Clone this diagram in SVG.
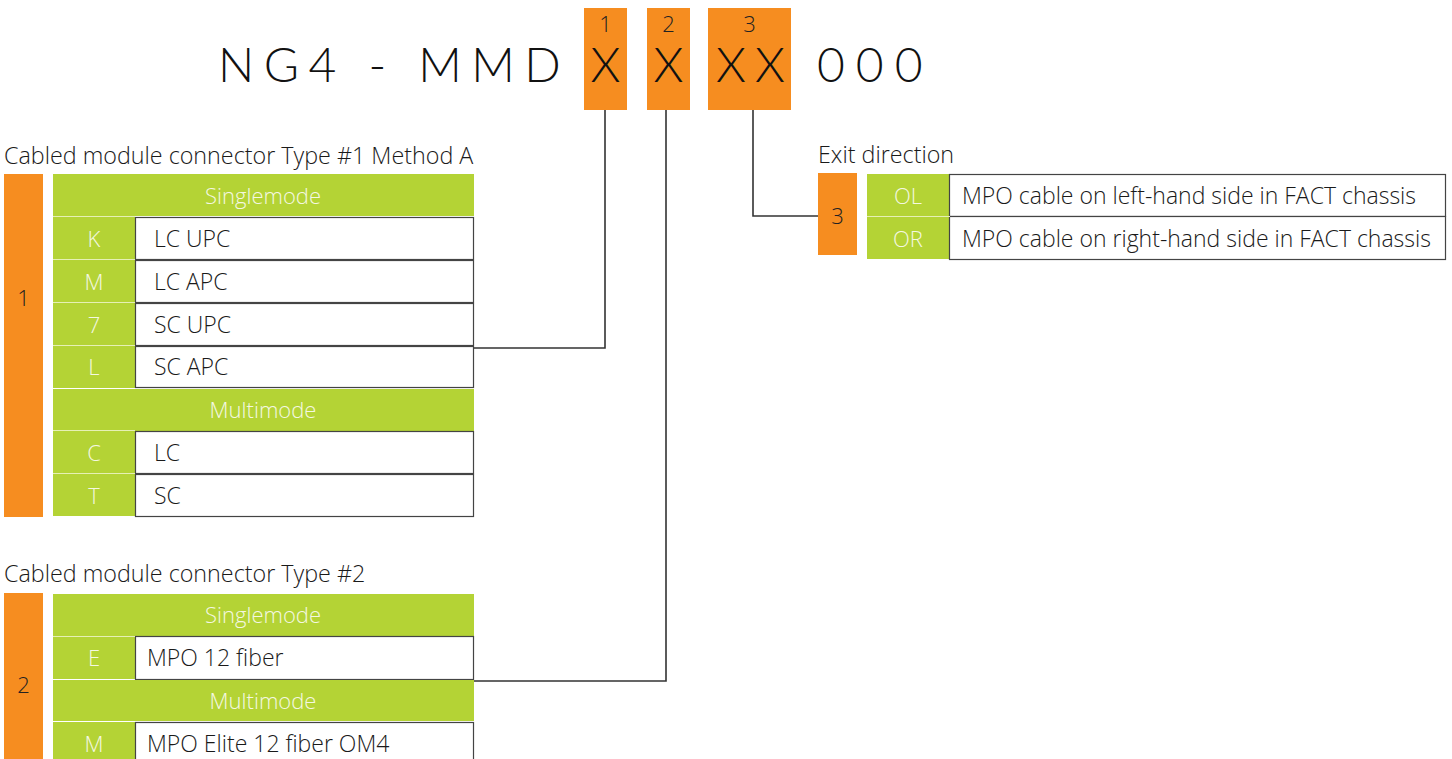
<svg xmlns="http://www.w3.org/2000/svg" width="1452" height="759" viewBox="0 0 1452 759">
<style>
.or{fill:#F68D20}
.gr{fill:#B4D335}
.cell{fill:#fff;stroke:#444;stroke-width:1.2}
.sep{stroke:#E6F0B4;stroke-width:1}
.gt{font-family:"Open Sans","Liberation Sans",sans-serif;font-weight:300;font-size:22px;fill:#F4F8E2;text-anchor:middle}
.dt{font-family:"Open Sans","Liberation Sans",sans-serif;font-weight:300;font-size:23px;fill:#1a1a1a}
.tt{font-family:"Open Sans","Liberation Sans",sans-serif;font-weight:300;font-size:23.3px;fill:#1a1a1a}
.big{font-family:Lato,"Liberation Sans",sans-serif;font-weight:300;font-size:48px;fill:#111}
.num{font-family:"Open Sans","Liberation Sans",sans-serif;font-weight:300;font-size:22px;fill:#222;text-anchor:middle}
.con{fill:none;stroke:#333;stroke-width:1.6}
</style>

<g id="code">
<rect class="or" x="584" y="8" width="43" height="102"/>
<rect class="or" x="647" y="8" width="43" height="102"/>
<rect class="or" x="708" y="8" width="83" height="102"/>
<text class="big" x="218" y="82" letter-spacing="9.5">NG4 - MMD</text>
<text class="big" x="605.5" y="82" text-anchor="middle">X</text>
<text class="big" x="668.5" y="82" text-anchor="middle">X</text>
<text class="big" x="731" y="82" text-anchor="middle">X</text>
<text class="big" x="770" y="82" text-anchor="middle">X</text>
<text class="big" x="817" y="82" letter-spacing="11">000</text>
<text class="num" x="605.5" y="32">1</text>
<text class="num" x="668.5" y="32">2</text>
<text class="num" x="749.5" y="32">3</text>
</g>

<g id="connectors">
<path class="con" d="M605 110 V348 H474"/>
<path class="con" d="M666 110 V681 H474"/>
<path class="con" d="M753 110 V216 H818"/>
</g>

<g id="table1">
<text class="tt" x="4" y="164">Cabled module connector Type #1 Method A</text>
<rect class="or" x="4" y="174" width="39" height="343"/>
<text class="num" x="23.5" y="306">1</text>
<rect class="gr" x="53" y="174" width="421" height="42"/>
<text class="gt" x="263" y="204">Singlemode</text>
<rect class="gr" x="53" y="217" width="82" height="42"/>
<rect class="cell" x="135.5" y="217.5" width="338" height="42"/>
<text class="gt" x="94" y="247">K</text>
<text class="dt" x="154" y="247">LC UPC</text>
<rect class="gr" x="53" y="260" width="82" height="42"/>
<rect class="cell" x="135.5" y="260.5" width="338" height="42"/>
<text class="gt" x="94" y="290">M</text>
<text class="dt" x="154" y="290">LC APC</text>
<rect class="gr" x="53" y="303" width="82" height="42"/>
<rect class="cell" x="135.5" y="303.5" width="338" height="42"/>
<text class="gt" x="94" y="333">7</text>
<text class="dt" x="154" y="333">SC UPC</text>
<rect class="gr" x="53" y="346" width="82" height="42"/>
<rect class="cell" x="135.5" y="346.5" width="338" height="41"/>
<text class="gt" x="94" y="375">L</text>
<text class="dt" x="154" y="375">SC APC</text>
<rect class="gr" x="53" y="389" width="421" height="42"/>
<text class="gt" x="263" y="418">Multimode</text>
<rect class="gr" x="53" y="431" width="82" height="42"/>
<rect class="cell" x="135.5" y="431.5" width="338" height="42"/>
<text class="gt" x="94" y="461">C</text>
<text class="dt" x="154" y="461">LC</text>
<rect class="gr" x="53" y="474" width="82" height="42"/>
<rect class="cell" x="135.5" y="474.5" width="338" height="42"/>
<text class="gt" x="94" y="504">T</text>
<text class="dt" x="154" y="504">SC</text>
<path class="sep" d="M53 216.5 H135 M53 259.5 H135 M53 302.5 H135 M53 345.5 H135 M53 430.5 H135 M53 473.5 H135"/>
</g>

<g id="table2">
<text class="tt" x="4" y="582">Cabled module connector Type #2</text>
<rect class="or" x="4" y="593" width="39" height="166"/>
<text class="num" x="23.5" y="693">2</text>
<rect class="gr" x="53" y="594" width="421" height="42"/>
<text class="gt" x="263" y="623">Singlemode</text>
<rect class="gr" x="53" y="637" width="82" height="42"/>
<rect class="cell" x="135.5" y="636.5" width="338" height="43"/>
<text class="gt" x="94" y="666">E</text>
<text class="dt" x="147" y="666">MPO 12 fiber</text>
<rect class="gr" x="53" y="680" width="421" height="41"/>
<text class="gt" x="263" y="709">Multimode</text>
<rect class="gr" x="53" y="722" width="82" height="42"/>
<rect class="cell" x="135.5" y="722.5" width="338" height="42"/>
<text class="gt" x="94" y="752">M</text>
<text class="dt" x="147" y="752">MPO Elite 12 fiber OM4</text>
<path class="sep" d="M53 636.5 H135"/>
</g>

<g id="table3">
<text class="tt" x="818" y="163">Exit direction</text>
<rect class="or" x="818" y="173" width="39" height="82"/>
<text class="num" x="837.5" y="224">3</text>
<rect class="gr" x="867" y="174" width="83" height="42"/>
<rect class="cell" x="949.5" y="174.5" width="496" height="42"/>
<text class="gt" x="908" y="204">OL</text>
<text class="dt" x="962" y="204">MPO cable on left-hand side in FACT chassis</text>
<rect class="gr" x="867" y="217" width="83" height="42"/>
<rect class="cell" x="949.5" y="216.5" width="496" height="43"/>
<text class="gt" x="908" y="247">OR</text>
<text class="dt" x="962" y="247">MPO cable on right-hand side in FACT chassis</text>
<path class="sep" d="M867 216.5 H950"/>
</g>
</svg>
